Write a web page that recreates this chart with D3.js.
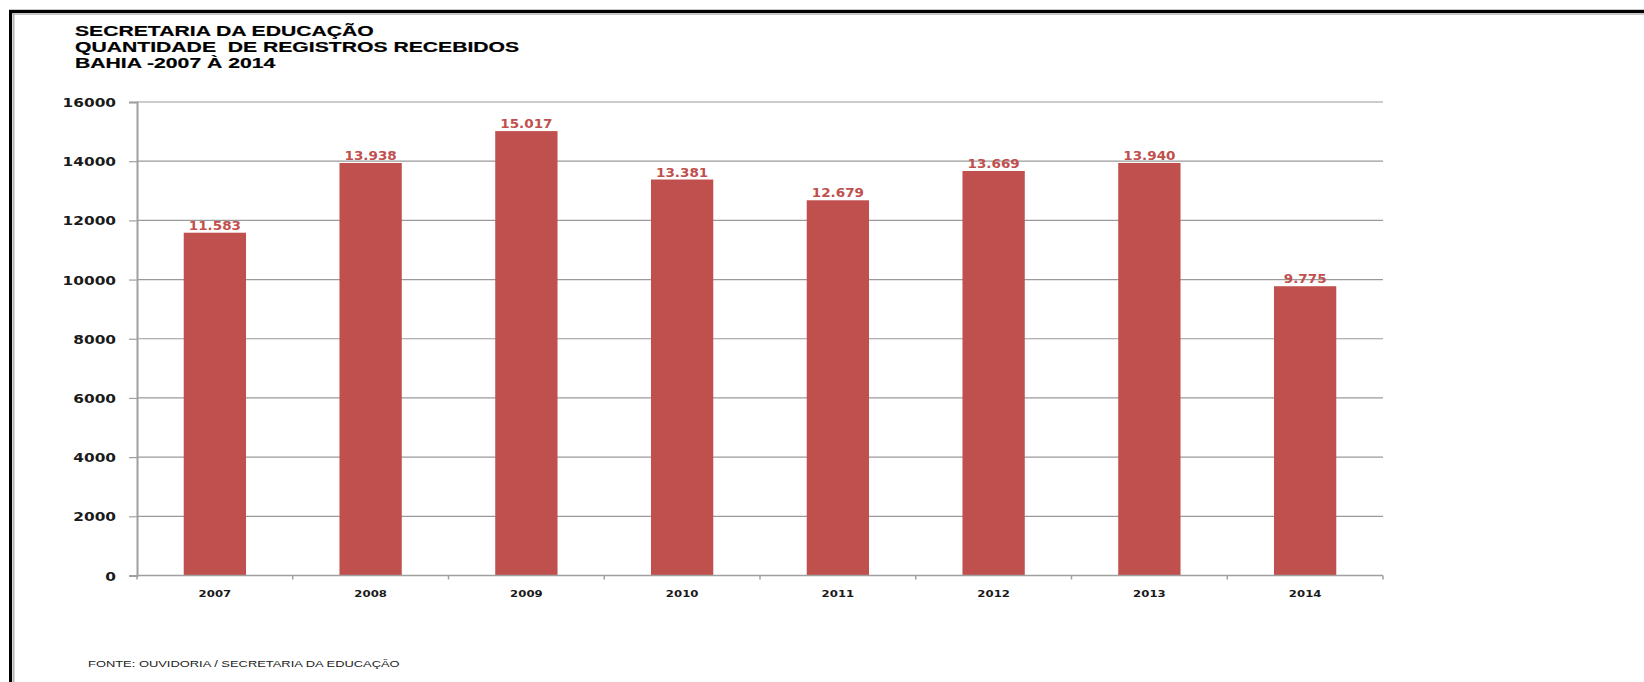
<!DOCTYPE html>
<html>
<head>
<meta charset="utf-8">
<script src="https://cdn.jsdelivr.net/npm/d3@7"></script>
<style>
  body { margin: 0; background: #fff; }
  svg { display: block; }
  text { white-space: pre; }
</style>
</head>
<body>
<svg width="1644" height="682"></svg>
<script>
// data
const years = ["2007", "2008", "2009", "2010", "2011", "2012", "2013", "2014"];
const registros = [11583, 13938, 15017, 13381, 12679, 13669, 13940, 9775];
const yTicks = [0, 2000, 4000, 6000, 8000, 10000, 12000, 14000, 16000];
const titleLines = ["SECRETARIA DA EDUCAÇÃO", "QUANTIDADE  DE REGISTROS RECEBIDOS", "BAHIA -2007 À 2014"];
const fonte = "FONTE: OUVIDORIA / SECRETARIA DA EDUCAÇÃO";

const barColor = "#c0504d";
const ptBR = d3.formatLocale({ decimal: ",", thousands: ".", grouping: [3], currency: ["R$", ""] });
const fmt = ptBR.format(",d");

const svg = d3.select("svg");

const plotLeft = 137, plotRight = 1383, plotTop = 102, plotBottom = 575.5;

let x = d3.scaleBand()
    .domain(years)
    .range([plotLeft, plotRight])
    .paddingInner(0.6)
    .paddingOuter(0.3);

let y = d3.scaleLinear()
    .domain([0, 16000])
    .range([plotBottom, plotTop]);

// frame (thick black line top + left, with a grey shadow)
svg.append("line").attr("x1", 9).attr("x2", 1644).attr("y1", 9.5).attr("y2", 9.5)
  .attr("stroke", "#c8c8c8").attr("stroke-width", 1);
svg.append("line").attr("x1", 12).attr("x2", 1644).attr("y1", 14).attr("y2", 14)
  .attr("stroke", "#b4b4b4").attr("stroke-width", 1.5);
svg.append("line").attr("x1", 13.5).attr("x2", 13.5).attr("y1", 12).attr("y2", 682)
  .attr("stroke", "#b4b4b4").attr("stroke-width", 2);
svg.append("path").attr("d", "M10.5,682V11.5H1644")
  .attr("fill", "none").attr("stroke", "#000").attr("stroke-width", 3);

// title
svg.append("g").selectAll("text")
  .data(titleLines)
  .join("text")
    .attr("transform", (d, i) => `translate(75,${35.5 + i * 16.4}) scale(1.46,1)`)
    .attr("font-family", "'Liberation Sans', Arial, sans-serif")
    .attr("font-weight", "bold")
    .attr("font-size", 14.5)
    .attr("fill", "#000")
    .attr("stroke", "#000")
    .attr("stroke-width", 0.2)
    .text(d => d);

// gridlines
svg.append("g").selectAll("line")
  .data(yTicks.filter(d => d > 0))
  .join("line")
    .attr("x1", plotLeft).attr("x2", plotRight)
    .attr("y1", d => y(d)).attr("y2", d => y(d))
    .attr("stroke", "#9a9a9a")
    .attr("stroke-width", 1.2);

// y axis
let yAxis = svg.append("g")
    .attr("transform", `translate(${plotLeft},0)`)
    .call(d3.axisLeft(y).tickValues(yTicks).tickSize(8).tickFormat(d3.format("d")));
yAxis.select(".domain").attr("stroke", "#a0a0a0").attr("stroke-width", 2);
yAxis.selectAll(".tick line").attr("stroke", "#a0a0a0").attr("stroke-width", 1.2);
yAxis.selectAll(".tick text")
    .attr("x", null).attr("dy", null)
    .attr("transform", "translate(-21,4.5) scale(1.28,1)")
    .attr("font-family", "'DejaVu Sans', Verdana, sans-serif")
    .attr("font-weight", "bold")
    .attr("font-size", 12)
    .attr("fill", "#1a1a1a");

// bars
svg.append("g").selectAll("rect")
  .data(years)
  .join("rect")
    .attr("x", d => x(d))
    .attr("width", x.bandwidth())
    .attr("y", (d, i) => y(registros[i]))
    .attr("height", (d, i) => y(0) - y(registros[i]))
    .attr("fill", barColor);

// value labels
svg.append("g").selectAll("text")
  .data(years)
  .join("text")
    .attr("transform", (d, i) => `translate(${x(d) + x.bandwidth() / 2},${y(registros[i]) - 3}) scale(1.13,1)`)
    .attr("text-anchor", "middle")
    .attr("font-family", "'DejaVu Sans', Verdana, sans-serif")
    .attr("font-weight", "bold")
    .attr("font-size", 12)
    .attr("fill", barColor)
    .text((d, i) => fmt(registros[i]));

// x axis: line plus ticks between categories
let xAxis = svg.append("g");
xAxis.append("line")
  .attr("x1", plotLeft).attr("x2", plotRight)
  .attr("y1", y(0)).attr("y2", y(0))
  .attr("stroke", "#a0a0a0").attr("stroke-width", 1.5);
xAxis.selectAll("line.tk")
  .data(d3.range(years.length + 1))
  .join("line")
    .attr("class", "tk")
    .attr("x1", i => x.range()[0] + i * x.step())
    .attr("x2", i => x.range()[0] + i * x.step())
    .attr("y1", y(0)).attr("y2", y(0) + 4)
    .attr("stroke", "#a0a0a0").attr("stroke-width", 1.5);
xAxis.selectAll("text")
  .data(years)
  .join("text")
    .attr("transform", d => `translate(${x(d) + x.bandwidth() / 2},596.5) scale(1.3,1)`)
    .attr("text-anchor", "middle")
    .attr("font-family", "'DejaVu Sans', Verdana, sans-serif")
    .attr("font-weight", "bold")
    .attr("font-size", 9)
    .attr("fill", "#1a1a1a")
    .text(d => d);

// source note
svg.append("text")
  .attr("transform", "translate(88,666.5) scale(1.52,1)")
  .attr("font-family", "'Liberation Sans', Arial, sans-serif")
  .attr("font-size", 8.5)
  .attr("fill", "#222")
  .text(fonte);
</script>
</body>
</html>
